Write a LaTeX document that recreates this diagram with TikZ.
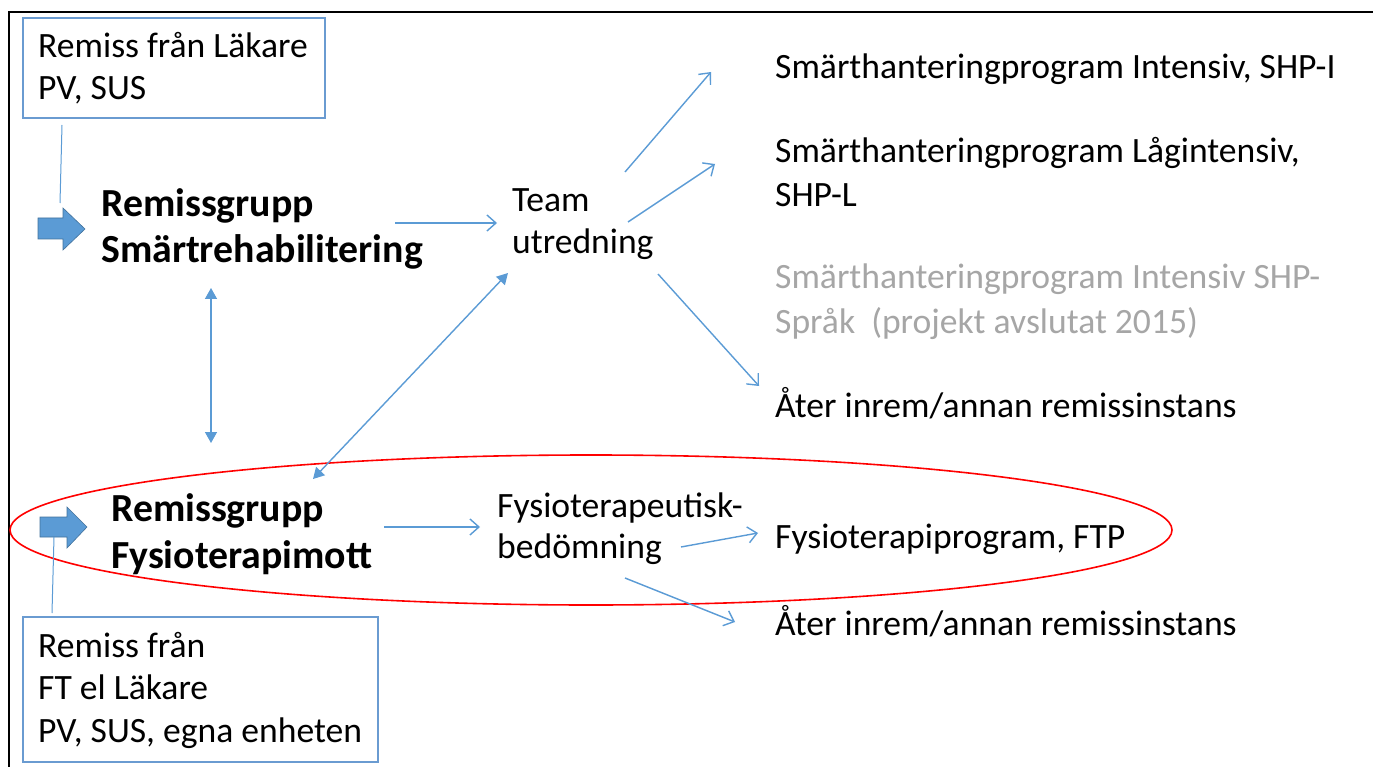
\documentclass[tikz,border=0pt]{standalone}
\usepackage{fontspec}
\setmainfont{Carlito}
\usetikzlibrary{arrows.meta}
\definecolor{lblue}{HTML}{5B9BD5}
\definecolor{boxblue}{HTML}{6A9BD1}
\definecolor{darkblue}{HTML}{41719C}
\definecolor{gtext}{HTML}{A6A6A6}
\begin{document}
\begin{tikzpicture}[x=1pt,y=-1pt,
  txt/.style={anchor=base west, inner sep=0pt, font=\fontsize{35.6}{42}\selectfont},
  gtxt/.style={txt, text=gtext},
  btxt/.style={anchor=base west, inner sep=0pt, font=\bfseries\fontsize{39.8}{46}\selectfont},
  conn/.style={draw=lblue, line width=1.4pt, -{Straight Barb[length=9pt,width=16pt,line width=1.4pt]}},
  dconn/.style={draw=lblue, line width=1.4pt, {Triangle[length=11pt,width=12pt]}-{Triangle[length=11pt,width=12pt]}},
  thinline/.style={draw=lblue, line width=1pt},
  srcbox/.style={draw=boxblue, line width=1.6pt},
  blockarrow/.style={fill=lblue, draw=darkblue, line width=0.6pt}
]
\useasboundingbox (0,0) rectangle (1373,767);
% frame
\draw[line width=2pt] (9,767) -- (9,12) -- (1373,12);
% ellipse
\draw[red, line width=1.6pt] (591,530) ellipse [x radius=581, y radius=75];
% source boxes
\draw[srcbox] (23,18) rectangle (325,118);
\node[txt] (b1a) at (38,58) {Remiss från Läkare};
\node[txt] (b1b) at (38,100) {PV, SUS};
\draw[srcbox] (23,617) rectangle (378,762);
\node[txt] (b2a) at (38,657) {Remiss från};
\node[txt] (b2b) at (38,699) {FT el Läkare};
\node[txt] (b2c) at (38,742) {PV, SUS, egna enheten};
% block arrows
\draw[blockarrow] (38,218) -- (63,218) -- (63,208) -- (85,229) -- (63,250) -- (63,239) -- (38,239) -- cycle;
\draw[blockarrow] (40,517) -- (67,517) -- (67,507) -- (87,527) -- (67,548) -- (67,537) -- (40,537) -- cycle;
% thin lines
\coordinate (l1s) at (62,125); \coordinate (l1e) at (60,203);
\draw[thinline] (l1s) -- (l1e);
\coordinate (l2s) at (54,537); \coordinate (l2e) at (52,613);
\draw[thinline] (l2s) -- (l2e);
% group labels
\node[btxt] (rs1) at (101,217) {Remissgrupp};
\node[btxt] (rs2) at (101,263) {Smärtrehabilitering};
\node[btxt] (rf1) at (111,521) {Remissgrupp};
\node[btxt] (rf2) at (111,568) {Fysioterapimott};
% team
\node[txt] (t1) at (512,212) {Team};
\node[txt] (t2) at (512,254) {utredning};
% fysio
\node[txt] (f1) at (497,517) {Fysioterapeutisk-};
\node[txt] (f2) at (497,558) {bedömning};
% outcomes
\node[txt] (o1) at (775,79) {Smärthanteringprogram Intensiv, SHP-I};
\node[txt] (o2a) at (775,163) {Smärthanteringprogram Lågintensiv,};
\node[txt] (o2b) at (775,207) {SHP-L};
\node[gtxt] (o3a) at (775,288) {Smärthanteringprogram Intensiv SHP-};
\node[gtxt] (o3b) at (775,333) {Språk\ \ (projekt avslutat 2015)};
\node[txt] (o4) at (775,417) {Åter inrem/annan remissinstans};
\node[txt] (o5) at (775,548) {Fysioterapiprogram, FTP};
\node[txt] (o6) at (775,635) {Åter inrem/annan remissinstans};
% arrow end points
\coordinate (a1s) at (395,223); \coordinate (a1e) at (497,223);
\coordinate (a2s) at (625,172); \coordinate (a2e) at (711,72);
\coordinate (a3s) at (628,222); \coordinate (a3e) at (715,164);
\coordinate (a4s) at (658,274); \coordinate (a4e) at (759,386);
\coordinate (d1s) at (211,288); \coordinate (d1e) at (211,443);
\coordinate (d2s) at (508,273); \coordinate (d2e) at (313,479);
\coordinate (a5s) at (384,527); \coordinate (a5e) at (480,527);
\coordinate (a6s) at (681,547); \coordinate (a6e) at (758,533);
\coordinate (a7s) at (625,578); \coordinate (a7e) at (735,622);
\draw[conn] (a1s) -- (a1e);
\draw[conn] (a2s) -- (a2e);
\draw[conn] (a3s) -- (a3e);
\draw[conn] (a4s) -- (a4e);
\draw[dconn] (d1s) -- (d1e);
\draw[dconn] (d2s) -- (d2e);
\draw[conn] (a5s) -- (a5e);
\draw[conn] (a6s) -- (a6e);
\draw[conn] (a7s) -- (a7e);
\end{tikzpicture}
\end{document}
